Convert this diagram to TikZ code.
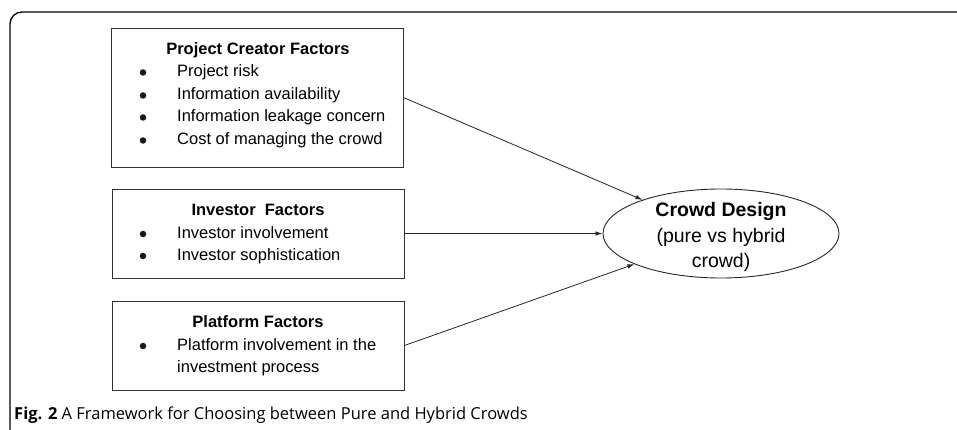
\documentclass[tikz,border=0pt]{standalone}
\usepackage{fontspec}
\setmainfont{Liberation Sans}
\newfontfamily\capfont{Open Sans}
\usetikzlibrary{arrows.meta,shapes.geometric}
\begin{document}
\begin{tikzpicture}[x=1pt,y=-1pt,
  fbox/.style={draw=black!80,line width=0.9pt,rectangle,minimum width=292pt,inner sep=0},
  ttl/.style={font=\fontsize{16.5}{19}\selectfont\bfseries,inner sep=0,anchor=base},
  itm/.style={font=\fontsize{16.5}{19}\selectfont,inner sep=0,anchor=base west},
  bul/.style={circle,fill=black!90,inner sep=0,minimum size=6.5pt},
  arr/.style={draw=black!85,line width=0.8pt,-{Latex[length=7pt,width=4.5pt]}}]
\useasboundingbox (0,0) rectangle (957,430);
\clip (0,0) rectangle (957,430);
% outer frame
\draw[line width=1.3pt,rounded corners=12pt] (10,440) -- (10,12) -- (970,12);
% boxes
\node[fbox,minimum height=139pt] (b1) at (257,97.5) {};
\node[fbox,minimum height=89pt] (b2) at (258,233.5) {};
\node[fbox,minimum height=89pt] (b3) at (258,345.5) {};
% box 1 text
\node[ttl] (t1) at (258,55) {Project Creator Factors};
\node[bul] (u11) at (143,72.5) {};
\node[itm] (i11) at (177,77) {Project risk};
\node[bul] (u12) at (143,95.5) {};
\node[itm] (i12) at (177,100) {Information availability};
\node[bul] (u13) at (143,117.5) {};
\node[itm] (i13) at (177,122) {Information leakage concern};
\node[bul] (u14) at (143,140.5) {};
\node[itm] (i14) at (177,145) {Cost of managing the crowd};
% box 2 text
\node[ttl] (t2) at (258,215.5) {Investor\ \ Factors};
\node[bul] (u21) at (143,234) {};
\node[itm] (i21) at (177,238.5) {Investor involvement};
\node[bul] (u22) at (143,256) {};
\node[itm] (i22) at (177,260.5) {Investor sophistication};
% box 3 text
\node[ttl] (t3) at (258,327.5) {Platform Factors};
\node[bul] (u31) at (143,346) {};
\node[itm] (i31) at (177,350.5) {Platform involvement in the};
\node[itm] (i32) at (177,372.5) {investment process};
% ellipse
\node[draw=black!85,line width=0.9pt,ellipse,minimum width=236pt,minimum height=89pt,inner sep=0] (cd) at (721,233.5) {};
\node[font=\fontsize{19.5}{24}\selectfont\bfseries,inner sep=0,anchor=base] (c1) at (721,217) {Crowd Design};
\node[font=\fontsize{19.5}{24}\selectfont,inner sep=0,anchor=base] (c2) at (721,242) {(pure vs hybrid};
\node[font=\fontsize{19.5}{24}\selectfont,inner sep=0,anchor=base] (c3) at (721,267) {crowd)};
% arrows
\draw[arr] (b1.east) -- (cd);
\draw[arr] (b2.east) -- (cd.west);
\draw[arr] (b3.east) -- (cd);
% caption
\node[font=\capfont\fontsize{16.5}{19}\selectfont,inner sep=0,anchor=base west] (cap) at (14,419) {\textbf{Fig. 2} A Framework for Choosing between Pure and Hybrid Crowds};
\end{tikzpicture}
\end{document}
